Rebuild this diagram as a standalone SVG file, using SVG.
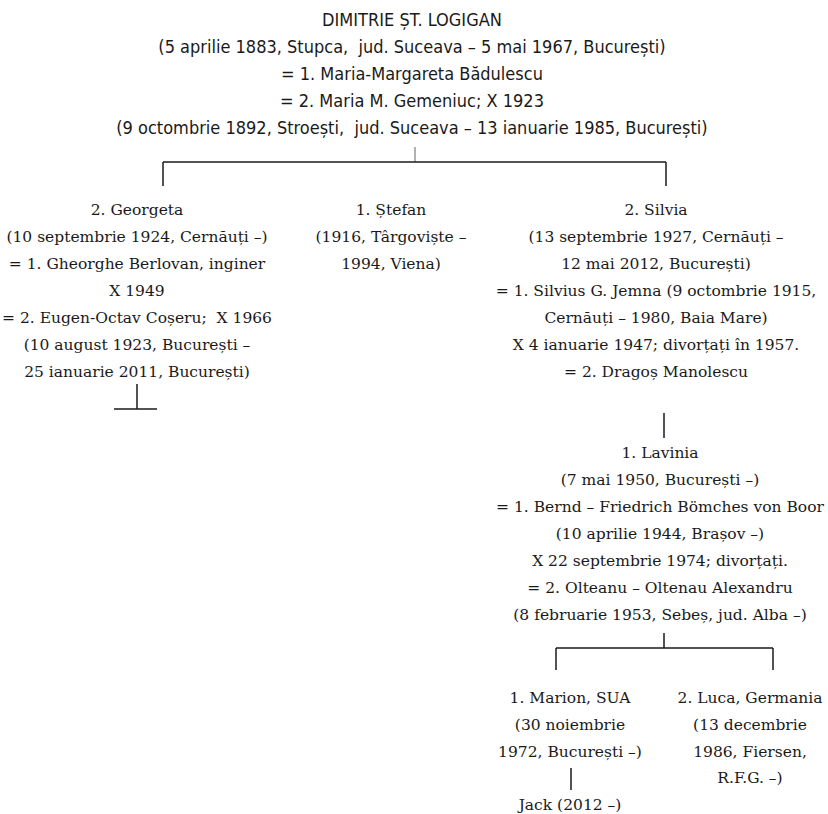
<svg xmlns="http://www.w3.org/2000/svg" width="828" height="814" viewBox="0 0 828 814">
<style>
text{white-space:pre}
.t{font-family:"DejaVu Sans Condensed","Liberation Sans Narrow","DejaVu Sans",sans-serif;font-size:18px;fill:#1a1a1a;text-anchor:middle}
.s{font-family:"DejaVu Serif","Liberation Serif",serif;font-size:15.5px;fill:#1a1a1a;text-anchor:middle}
.c line{stroke:#1a1a1a;stroke-width:1.5}
</style>
<rect width="828" height="814" fill="#ffffff"/>
<g id="dimitrie">
<text class="t" x="412" y="26">DIMITRIE ȘT. LOGIGAN</text>
<text class="t" x="412" y="53">(5 aprilie 1883, Stupca,  jud. Suceava – 5 mai 1967, București)</text>
<text class="t" x="412" y="80">= 1. Maria-Margareta Bădulescu</text>
<text class="t" x="412" y="107">= 2. Maria M. Gemeniuc; X 1923</text>
<text class="t" x="412" y="134">(9 octombrie 1892, Stroești,  jud. Suceava – 13 ianuarie 1985, București)</text>
</g>
<g id="georgeta">
<text class="s" x="137" y="215">2. Georgeta</text>
<text class="s" x="137" y="242">(10 septembrie 1924, Cernăuți –)</text>
<text class="s" x="137" y="269">= 1. Gheorghe Berlovan, inginer</text>
<text class="s" x="137" y="296">X 1949</text>
<text class="s" x="137" y="323">= 2. Eugen-Octav Coșeru;  X 1966</text>
<text class="s" x="137" y="350">(10 august 1923, București –</text>
<text class="s" x="137" y="377">25 ianuarie 2011, București)</text>
</g>
<g id="stefan">
<text class="s" x="391" y="215">1. Ștefan</text>
<text class="s" x="391" y="242">(1916, Târgoviște –</text>
<text class="s" x="391" y="269">1994, Viena)</text>
</g>
<g id="silvia">
<text class="s" x="656" y="215">2. Silvia</text>
<text class="s" x="656" y="242">(13 septembrie 1927, Cernăuți –</text>
<text class="s" x="656" y="269">12 mai 2012, București)</text>
<text class="s" x="656" y="296">= 1. Silvius G. Jemna (9 octombrie 1915,</text>
<text class="s" x="656" y="323">Cernăuți – 1980, Baia Mare)</text>
<text class="s" x="656" y="350">X 4 ianuarie 1947; divorțați în 1957.</text>
<text class="s" x="656" y="377">= 2. Dragoș Manolescu</text>
</g>
<g id="lavinia">
<text class="s" x="660" y="458">1. Lavinia</text>
<text class="s" x="660" y="485">(7 mai 1950, București –)</text>
<text class="s" x="660" y="512">= 1. Bernd – Friedrich Bömches von Boor</text>
<text class="s" x="660" y="539">(10 aprilie 1944, Brașov –)</text>
<text class="s" x="660" y="566">X 22 septembrie 1974; divorțați.</text>
<text class="s" x="660" y="593">= 2. Olteanu – Oltenau Alexandru</text>
<text class="s" x="660" y="620">(8 februarie 1953, Sebeș, jud. Alba –)</text>
</g>
<g id="marion">
<text class="s" x="570" y="703">1. Marion, SUA</text>
<text class="s" x="570" y="730">(30 noiembrie</text>
<text class="s" x="570" y="757">1972, București –)</text>
</g>
<g id="luca">
<text class="s" x="750" y="703">2. Luca, Germania</text>
<text class="s" x="750" y="730">(13 decembrie</text>
<text class="s" x="750" y="757">1986, Fiersen,</text>
<text class="s" x="750" y="783">R.F.G. –)</text>
</g>
<g id="jack">
<text class="s" x="570" y="810">Jack (2012 –)</text>
</g>
<g id="connectors" class="c">
<line x1="415" y1="147" x2="415" y2="162" style="stroke:#999999"/>
<line x1="163" y1="162" x2="666" y2="162"/>
<line x1="163" y1="162" x2="163" y2="186"/>
<line x1="666" y1="162" x2="666" y2="186"/>
<line x1="137" y1="384" x2="137" y2="409"/>
<line x1="114" y1="409" x2="157" y2="409"/>
<line x1="664" y1="413" x2="664" y2="438"/>
<line x1="664" y1="633" x2="664" y2="648"/>
<line x1="556" y1="648" x2="773" y2="648"/>
<line x1="556" y1="648" x2="556" y2="670"/>
<line x1="773" y1="648" x2="773" y2="670"/>
<line x1="571" y1="768" x2="571" y2="790"/>
</g>
</svg>
